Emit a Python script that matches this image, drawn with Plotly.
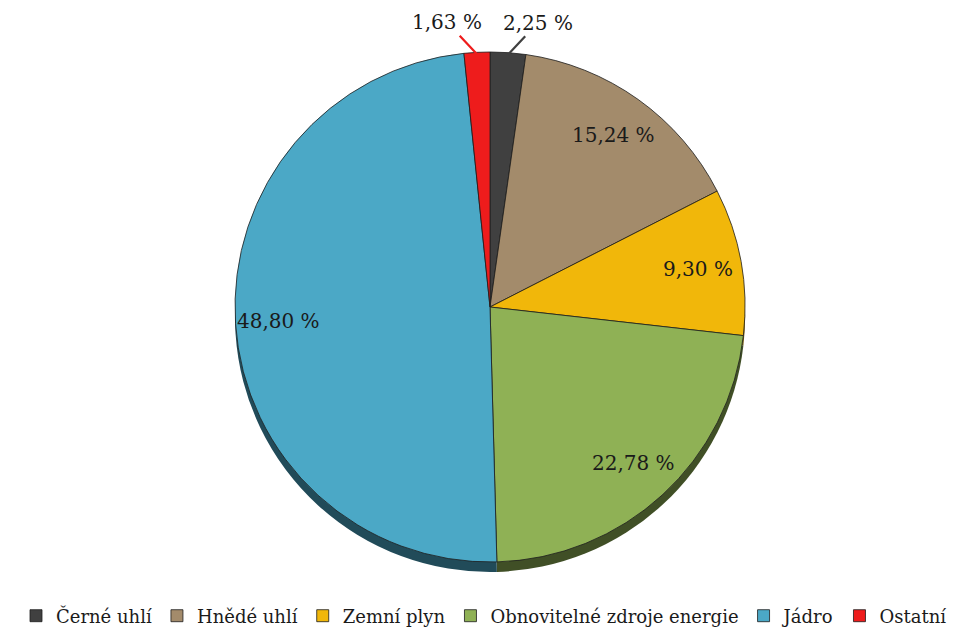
import math
import plotly.graph_objects as go

# Electricity production mix (share in %)
labels = ["Černé uhlí", "Hnědé uhlí", "Zemní plyn",
          "Obnovitelné zdroje energie", "Jádro", "Ostatní"]
values = [2.25, 15.24, 9.30, 22.78, 48.80, 1.63]
colors = ["#404040", "#a38b6b", "#f1b70a", "#8fb155", "#4ba8c6", "#ee1c1c"]

W, H = 968, 639
cx, cy, R = 490, 307, 255
depth = 10  # pixel height of the 3D rim under the pie
SERIF = "DejaVu Serif"


def darken(hex_color, f=0.45):
    h = hex_color.lstrip("#")
    r, g, b = (int(h[i:i + 2], 16) for i in (0, 2, 4))
    return "rgb({},{},{})".format(int(r * f), int(g * f), int(b * f))


def px_to_paper(x, y):
    return x / W, 1 - y / H


def domain(offset_y=0):
    x0, y0 = px_to_paper(cx - R, cy + R + offset_y)
    x1, y1 = px_to_paper(cx + R, cy - R + offset_y)
    return dict(x=[x0, x1], y=[y0, y1])


fig = go.Figure()

# dark rim (pie shifted down) to give the disc some thickness
fig.add_trace(go.Pie(
    labels=labels, values=values, sort=False, direction="clockwise", rotation=0,
    marker=dict(colors=[darken(c) for c in colors], line=dict(width=0)),
    textinfo="none", hoverinfo="skip", showlegend=False, domain=domain(depth),
))

fig.add_trace(go.Pie(
    labels=labels, values=values, sort=False, direction="clockwise", rotation=0,
    marker=dict(colors=colors, line=dict(color="rgba(30,30,30,0.8)", width=1)),
    textinfo="none", domain=domain(0),
))

# value labels placed at each slice's mid angle
total = sum(values)
annotations = []
cum = 0.0
font = dict(family=SERIF, size=20, color="#1a1a1a")
for lab, v, col in zip(labels, values, colors):
    mid = (cum + v / 2) / total * 2 * math.pi
    cum += v
    text = "{:.2f} %".format(v).replace(".", ",")
    if v >= 5:
        r = 0.83 * R
        x, y = px_to_paper(cx + r * math.sin(mid), cy - r * math.cos(mid))
        annotations.append(dict(x=x, y=y, xref="paper", yref="paper", text=text,
                                xanchor="center", yanchor="middle",
                                showarrow=False, font=font))
    else:
        ex, ey = px_to_paper(cx + (R - 2) * math.sin(mid), cy - (R - 2) * math.cos(mid))
        side = 1 if math.sin(mid) > 0 else -1
        annotations.append(dict(x=ex, y=ey, xref="paper", yref="paper", text=text,
                                xanchor="center", yanchor="middle",
                                showarrow=True, arrowhead=0, arrowwidth=2.2,
                                arrowcolor=col, ax=side * 30, ay=-32, standoff=0,
                                font=font))

fig.update_layout(
    width=W, height=H,
    margin=dict(l=0, r=0, t=0, b=0),
    paper_bgcolor="white", plot_bgcolor="white",
    annotations=annotations,
    legend=dict(orientation="h", x=0.5, xanchor="center", y=1 - 616 / H, yanchor="middle",
                font=dict(family=SERIF, size=18, color="#1a1a1a"),
                itemwidth=30, tracegroupgap=0),
)

fig.write_html("out.html")
